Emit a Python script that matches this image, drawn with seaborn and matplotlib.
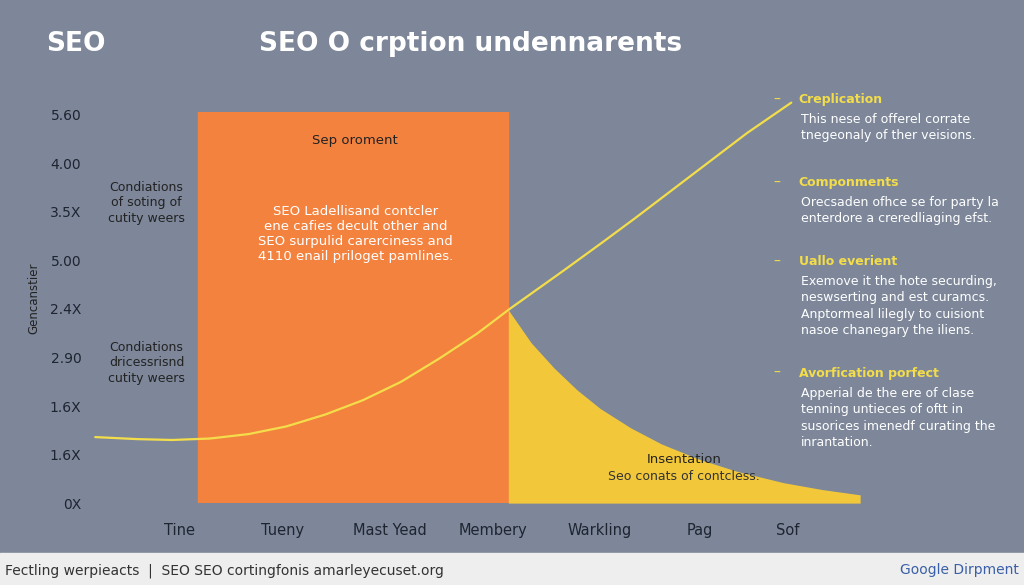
import numpy as np
import pandas as pd
import seaborn as sns
import matplotlib.pyplot as plt

BG = '#7d8799'
ORANGE = '#f4823f'
YELLOW = '#f2c83a'
LINE = '#f3dd4a'

x_ticks = [1.1, 2.45, 3.85, 5.2, 6.6, 7.9, 9.05]
x_labels = ['Tine', 'Tueny', 'Mast Yead', 'Membery', 'Warkling', 'Pag', 'Sof']
y_ticks = [0, 1, 2, 3, 4, 5, 6, 7, 8]
y_labels = ['0X', '1.6X', '1.6X', '2.90', '2.4X', '5.00', '3.5X', '4.00', '5.60']

# densely so the curve looks smooth
curve_x = [0, 0.5, 1.0, 1.5, 2.0, 2.5, 3.0, 3.5, 4.0, 4.5, 5.0, 5.4, 6.0, 6.5, 7.0, 7.5, 8.0, 8.5, 9.1]
curve_y = [1.36, 1.32, 1.30, 1.33, 1.42, 1.58, 1.82, 2.12, 2.50, 2.98, 3.50, 3.98, 4.65, 5.22, 5.80, 6.40, 7.00, 7.60, 8.25]
decay_x = [5.4, 5.7, 6.0, 6.3, 6.6, 7.0, 7.4, 7.9, 8.4, 9.0, 9.5, 10.0]
decay_y = [3.98, 3.30, 2.78, 2.33, 1.95, 1.55, 1.22, 0.90, 0.65, 0.42, 0.28, 0.17]
band = (1.35, 5.4)

sns.set_style('white')
fig = plt.figure(figsize=(10.24, 5.85), dpi=100, facecolor=BG)
ax = fig.add_axes([0.093, 0.140, 0.747, 0.668])
ax.set_facecolor(BG)

ax.axvspan(band[0], band[1], color=ORANGE, zorder=1)
dx = np.linspace(decay_x[0], decay_x[-1], 300)
dy = np.interp(dx, decay_x, decay_y)
ax.fill_between(dx, 0, dy, color=YELLOW, zorder=2, lw=0)
df = pd.DataFrame({'x': np.linspace(0, 9.1, 300)})
df['y'] = np.interp(df['x'], curve_x, curve_y)
sns.lineplot(data=df, x='x', y='y', ax=ax, color=LINE, lw=1.6, zorder=3, clip_on=False)

ax.set_xlim(0, 10)
ax.set_ylim(0, 8.05)
ax.set_xticks(x_ticks, x_labels, fontsize=10.5, color='#1e2430')
ax.set_yticks(y_ticks, y_labels, fontsize=10, color='#1e2430')
ax.tick_params(axis='x', length=0, pad=14)
ax.tick_params(axis='y', length=0, pad=10)
ax.set_xlabel('')
ax.set_ylabel('')
sns.despine(ax=ax, left=True, bottom=True, right=True, top=True)

ax.text(3.4, 7.4, 'Sep oroment', ha='center', fontsize=9.5, color='#222')
ax.text(3.4, 5.0, 'SEO Ladellisand contcler\nene cafies decult other and\nSEO surpulid carerciness and\n4110 enail priloget pamlines.',
        ha='center', fontsize=9.5, color='white', linespacing=1.2)
ax.text(7.7, 0.82, 'Insentation', ha='center', fontsize=9.5, color='#222')
ax.text(7.7, 0.47, 'Seo conats of contcless.', ha='center', fontsize=9, color='#333')
ax.text(0.67, 5.8, 'Condiations\nof soting of\ncutity weers', ha='center', fontsize=9, color='#222', linespacing=1.25)
ax.text(0.67, 2.5, 'Condiations\ndricessrisnd\ncutity weers', ha='center', fontsize=9, color='#222', linespacing=1.25)

fig.text(0.045, 0.925, 'SEO', fontsize=19, color='white', weight='bold', va='center')
fig.text(0.253, 0.925, 'SEO O crption undennarents', fontsize=19, color='white', weight='bold', va='center')
fig.text(0.027, 0.49, 'Gencanstier', rotation=90, fontsize=8.5, color='#222', va='center')

notes = [('Creplication', 'This nese of offerel corrate\ntnegeonaly of ther veisions.', 0.83),
         ('Componments', 'Orecsaden ofhce se for party la\nenterdore a creredliaging efst.', 0.688),
         ('Uallo everient', 'Exemove it the hote securding,\nneswserting and est curamcs.\nAnptormeal lilegly to cuisiont\nnasoe chanegary the iliens.', 0.553),
         ('Avorfication porfect', 'Apperial de the ere of clase\ntenning untieces of oftt in\nsusorices imenedf curating the\ninrantation.', 0.362)]
for head, body, y in notes:
    fig.text(0.755, y, '–', fontsize=10, color=LINE, va='center')
    fig.text(0.78, y, head, fontsize=9, color=LINE, weight='bold', va='center')
    fig.text(0.782, y - 0.023, body, fontsize=9, color='white', va='top', linespacing=1.35)

fig.patches.append(plt.Rectangle((0, 0), 1, 0.055, transform=fig.transFigure, color='#eeeeee'))
fig.text(0.005, 0.025, 'Fectling werpieacts  |  SEO SEO cortingfonis amarleyecuset.org', fontsize=10, color='#333', va='center')
fig.text(0.995, 0.025, 'Google Dirpment', fontsize=10, color='#3a5fa8', ha='right', va='center')

fig.savefig('out.png', dpi=100, facecolor=BG)
